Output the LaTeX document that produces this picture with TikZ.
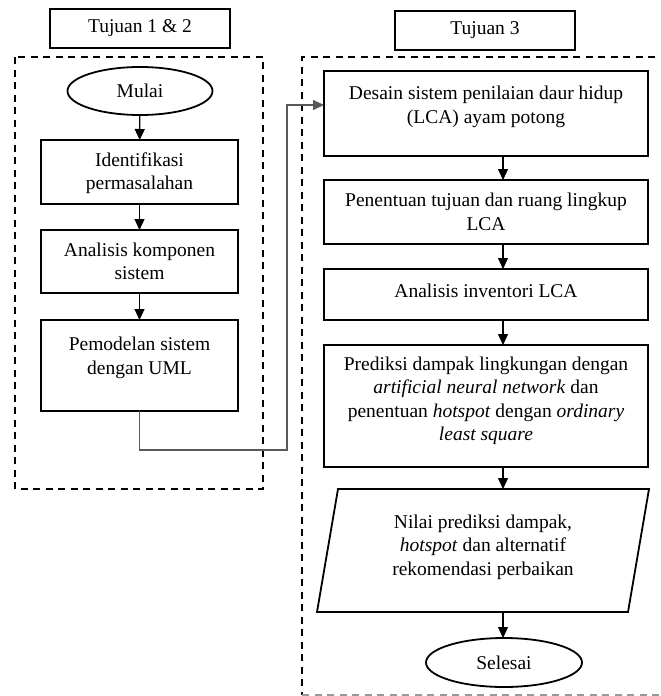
\documentclass[tikz,border=0pt]{standalone}
\usepackage{fontspec}
\setmainfont{Liberation Serif}
\usetikzlibrary{arrows.meta,shapes.geometric}
\begin{document}
\begin{tikzpicture}[x=1pt,y=-1pt,
  every node/.style={font=\fontsize{19.5}{23.5}\selectfont},
  box/.style={draw, line width=1.8pt, rectangle, inner sep=0pt, outer sep=0pt},
  term/.style={draw, line width=1.8pt, ellipse, inner sep=0pt, outer sep=0pt},
  iobound/.style={rectangle, inner sep=0pt, outer sep=0pt},
  ioline/.style={line width=1.8pt, line join=miter},
  txt/.style={align=center, inner sep=0pt},
  frame/.style={dash pattern=on 7pt off 5.5pt, line width=2pt},
  tip/.style={-{Triangle[length=11pt,width=10pt]}},
  arr/.style={tip, line width=1.2pt},
  link/.style={tip, draw=black!65, line width=1.1pt},
]
\useasboundingbox (0,0) rectangle (661,696);

% group frames
\draw[frame] (15,57) rectangle (263,489);
\draw[frame] (680,57) -- (302,57) -- (302,694.5);
\draw[frame, draw=black!40] (302,694.5) -- (680,694.5);

% group headings
\node[box, minimum width=180, minimum height=39] (h12) at (140,28.5) {Tujuan 1 \& 2};
\node[box, minimum width=180, minimum height=39] (h3) at (485,30.5) {Tujuan 3};

% objectives 1 & 2
\node[term, minimum width=145, minimum height=48] (start) at (140,91) {Mulai};
\node[box, minimum width=197, minimum height=64] (b1) at (139.5,172) {};
\node[txt] (b1t) at (139.5,173) {Identifikasi\\permasalahan};
\node[box, minimum width=197, minimum height=63] (b2) at (139.5,261.5) {};
\node[txt] (b2t) at (139.5,261.5) {Analisis komponen\\sistem};
\node[box, minimum width=197, minimum height=91] (b3) at (139.5,365.5) {};
\node[txt] (b3t) at (139.5,358) {Pemodelan sistem\\dengan UML};

% objective 3
\node[box, minimum width=324, minimum height=85] (r1) at (486,113.5) {};
\node[txt] (r1t) at (486,107) {Desain sistem penilaian daur hidup\\(LCA) ayam potong};
\node[box, minimum width=324, minimum height=64] (r2) at (486,212) {};
\node[txt] (r2t) at (486,212) {Penentuan tujuan dan ruang lingkup\\LCA};
\node[box, minimum width=324, minimum height=51] (r3) at (486,294.5) {};
\node[txt] (r3t) at (486,290.5) {Analisis inventori LCA};
\node[box, minimum width=324, minimum height=122] (r4) at (486,406) {};
\node[txt] (r4t) at (486,401) {Prediksi dampak lingkungan dengan\\
  \textit{artificial neural network} dan\\
  penentuan \textit{hotspot} dengan \textit{ordinary}\\
  \textit{least square}};
% output parallelogram, slanted 21pt within its bounding node
\node[iobound, minimum width=332, minimum height=123] (r5) at (483,550.5) {};
\draw[ioline] (r5.south west) -- ([xshift=21pt]r5.north west) -- (r5.north east)
  -- ([xshift=-21pt]r5.south east) -- cycle;
\node[txt] (r5t) at (483,547) {Nilai prediksi dampak,\\
  \textit{hotspot} dan alternatif\\rekomendasi perbaikan};
\node[term, minimum width=156, minimum height=49] (stop) at (504,662.5) {Selesai};

% flow
\draw[arr] (start) -- (b1);
\draw[arr] (b1) -- (b2);
\draw[arr] (b2) -- (b3);
\coordinate (jog) at (287,450);
\draw[link] (b3.south) |- (jog) |- ([yshift=8.5pt]r1.west);

\coordinate (ax) at (503,0);
\draw[arr] (r1.south -| ax) -- (r2.north -| ax);
\draw[arr] (r2.south -| ax) -- (r3.north -| ax);
\draw[arr] (r3.south -| ax) -- (r4.north -| ax);
\draw[arr] (r4.south -| ax) -- (r5.north -| ax);
\draw[arr] (r5.south -| ax) -- (stop.north -| ax);
\end{tikzpicture}
\end{document}
